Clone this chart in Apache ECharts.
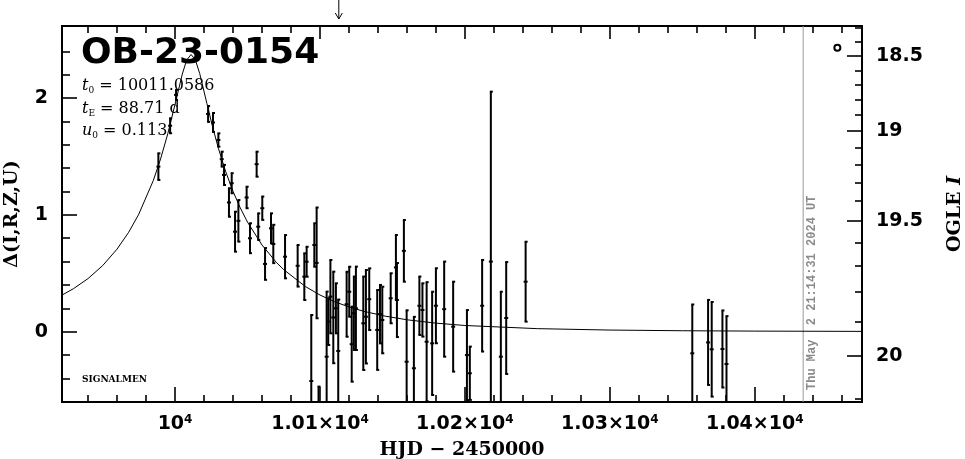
<!DOCTYPE html>
<html><head><meta charset="utf-8">
<script src="https://cdn.jsdelivr.net/npm/echarts@6/dist/echarts.min.js"></script>
<style>html,body{margin:0;padding:0;background:#fff}#c{width:965px;height:459px}</style>
</head><body><div id="c"></div><script>
// ---- data ----
const hjd = [9988.5, 9996.6, 10000.7, 10022.8, 10026.2, 10029.9, 10032.2, 10033.8, 10039.1, 10037.2,
  10041.4, 10043.7, 10049.4, 10051.7, 10056.3, 10057.4, 10060.2, 10062.1, 10066.2, 10067.8,
  10075.9, 10084.6, 10089.2, 10090.8, 10094.0, 10096.1, 10097.7, 10099.0, 10104.6, 10105.7,
  10107.2, 10109.2, 10111.0, 10112.6, 10118.4, 10120.2, 10121.9, 10123.4, 10124.8, 10129.9,
  10131.7, 10134.0, 10139.5, 10141.4, 10143.0, 10148.8, 10152.4, 10153.1, 10157.9, 10159.8,
  10164.8, 10168.6, 10170.7, 10173.6, 10177.4, 10180.0, 10185.7, 10191.9, 10201.4, 10203.4,
  10211.9, 10217.9, 10224.8, 10228.5, 10241.9, 10356.9, 10367.8, 10370.3, 10377.7, 10380.5];
const delta = [1.413, 1.763, 2.027, 1.864, 1.791, 1.641, 1.477, 1.342, 1.271, 1.106,
  0.856, 0.949, 1.149, 0.80, 1.434, 0.899, 1.057, 0.58, 0.885, 0.751,
  0.642, 0.564, 0.471, 0.599, -0.422, 0.742, 0.589, -0.75, -0.214, 0.086,
  0.30, 0.122, 0.20, -0.165, 0.235, 0.342, -0.107, 0.158, 0.20, 0.072,
  0.128, 0.278, 0.015, 0.15, 0.10, 0.286, 0.55, 0.271, 0.692, -0.257,
  -0.313, 0.222, 0.186, -0.086, -0.10, 0.222, 0.193, 0.043, -0.2, -0.356,
  0.222, 0.6, -0.214, 0.117, 0.428, -0.185, -0.092, -0.151, -0.148, -0.277];
const err = [0.114, 0.064, 0.043, 0.068, 0.081, 0.057, 0.064, 0.086, 0.086, 0.122,
  0.171, 0.178, 0.092, 0.128, 0.107, 0.114, 0.10, 0.136, 0.128, 0.164,
  0.185, 0.178, 0.20, 0.128, 0.565, 0.186, 0.474, 0.28, 0.557, 0.20,
  0.314, 0.392, 0.214, 0.44, 0.278, 0.214, 0.321, 0.314, 0.357, 0.40,
  0.40, 0.264, 0.342, 0.25, 0.285, 0.214, 0.278, 0.317, 0.264, 0.44,
  0.44, 0.25, 0.228, 0.51, 0.442, 0.321, 0.407, 0.385, 0.385, 0.228,
  0.392, 1.455, 0.556, 0.479, 0.342, 0.418, 0.364, 0.405, 0.33, 0.41];

// model curve samples
const modelHjd = [9922, 9930, 9940, 9950, 9960, 9968, 9975, 9985, 9990, 9995,
  10000, 10005, 10008, 10011.06, 10014, 10017, 10022, 10026, 10030, 10035,
  10040, 10045, 10050, 10060, 10070, 10075, 10090, 10100, 10110, 10120,
  10130, 10145, 10160, 10180, 10200, 10250, 10300, 10350, 10400, 10474];
const modelDelta = [0.313, 0.369, 0.455, 0.565, 0.707, 0.851, 1.006, 1.294, 1.478, 1.695,
  1.946, 2.205, 2.325, 2.373, 2.328, 2.211, 1.953, 1.749, 1.566, 1.368,
  1.202, 1.060, 0.938, 0.742, 0.592, 0.531, 0.386, 0.314, 0.257, 0.212,
  0.175, 0.133, 0.102, 0.073, 0.053, 0.026, 0.014, 0.008, 0.005, 0.0025];

const extraMarker = [[10457, 2.43]];

// ticks & labels
const xMajorTicks = [10000, 10100, 10200, 10300, 10400];
const xTickLabels = ['10^4', '1.01×10^4', '1.02×10^4', '1.03×10^4', '1.04×10^4'];
const xMinorTicks = [9940, 9960, 9980, 10020, 10040, 10060, 10080, 10120, 10140, 10160, 10180,
  10220, 10240, 10260, 10280, 10320, 10340, 10360, 10380, 10420, 10440, 10460];
const yMajorTicks = [0, 1, 2];
const yMinorTicks = [-0.4, -0.2, 0.2, 0.4, 0.6, 0.8, 1.2, 1.4, 1.6, 1.8, 2.2, 2.4];
const magMajor = [18.5, 19, 19.5, 20];
const magLabels = ['18.5', '19', '19.5', '20'];
const magMinor = [18.3, 18.4, 18.6, 18.7, 18.8, 18.9, 19.1, 19.2, 19.3, 19.4, 19.6, 19.7, 19.8, 19.9, 20.1];

const eventName = 'OB-23-0154';
const t0Text = '10011.0586', tEText = '88.71 d', u0Text = '0.113';
const nowHjd = 10433.4;
const nowLabel = 'Thu May  2 21:14:31 2024 UT';
const arrowHjd = 10113;

const X_MIN = 9922, X_MAX = 10474, Y_MIN = -0.602, Y_MAX = 2.617;
const SRC = 2.672, BLEND = -1.846;
function magToDelta(m) { return 2.5 * Math.log10(SRC * Math.pow(10, -0.4 * (m - 20)) + BLEND); }
const magMajorD = magMajor.map(magToDelta);
const magMinorD = magMinor.map(magToDelta);

const chart = echarts.init(document.getElementById('c'), null, { renderer: 'canvas' });
const tickFont = { fontFamily: 'DejaVu Sans', fontWeight: 'bold', fontSize: 19, color: '#000' };
const nameFont = { fontFamily: 'DejaVu Serif', fontWeight: 'bold', fontSize: 19, color: '#000' };

function xAxisDef(pos, ticks, len, labels) {
  return {
    type: 'value', min: X_MIN, max: X_MAX, position: pos,
    axisLine: { show: false, onZero: false }, splitLine: { show: false },
    axisTick: { show: true, inside: true, length: len, customValues: ticks, lineStyle: { color: '#000', width: 1.6 } },
    axisLabel: labels ? {
      show: true, customValues: xMajorTicks, margin: 12,
      formatter: v => { const i = xMajorTicks.indexOf(v); const s = i >= 0 ? xTickLabels[i] : ''; return '{m|' + s.replace(/\^(\d+)/, '}{s|$1}'); },
      rich: { m: Object.assign({}, tickFont), s: Object.assign({}, tickFont, { fontSize: 12, padding: [0, 0, 9, 0] }) }
    } : { show: false }
  };
}
function yAxisDef(pos, ticks, len, labelVals, fmt) {
  return {
    type: 'value', min: Y_MIN, max: Y_MAX, position: pos,
    axisLine: { show: false, onZero: false }, splitLine: { show: false },
    axisTick: { show: true, inside: true, length: len, customValues: ticks, lineStyle: { color: '#000', width: 1.6 } },
    axisLabel: labelVals ? Object.assign({ show: true, customValues: labelVals, margin: 14, formatter: fmt }, tickFont) : { show: false }
  };
}

const xAxes = [xAxisDef('bottom', xMajorTicks, 15, true), xAxisDef('bottom', xMinorTicks, 7, false),
  xAxisDef('top', xMajorTicks, 13, false), xAxisDef('top', xMinorTicks, 7, false)];
xAxes[0].name = 'HJD − 2450000'; xAxes[0].nameLocation = 'middle'; xAxes[0].nameGap = 39; xAxes[0].nameTextStyle = nameFont;

const yAxes = [
  yAxisDef('left', yMajorTicks, 15, yMajorTicks, v => String(Math.round(v))),
  yAxisDef('left', yMinorTicks, 8, null),
  yAxisDef('right', magMajorD, 15, magMajorD, v => { let b = 0, bd = 1e9; magMajorD.forEach((d, i) => { if (Math.abs(d - v) < bd) { bd = Math.abs(d - v); b = i; } }); return magLabels[b]; }),
  yAxisDef('right', magMinorD, 7, null)
];
yAxes[0].name = 'Δ(I,R,Z,U)'; yAxes[0].nameLocation = 'middle'; yAxes[0].nameGap = 40; yAxes[0].nameTextStyle = nameFont;
yAxes[2].name = '{n|OGLE }{i|I}'; yAxes[2].nameLocation = 'middle'; yAxes[2].nameGap = 84;
yAxes[2].nameRotate = 90;
yAxes[2].nameTextStyle = { rich: { n: nameFont, i: Object.assign({}, nameFont, { fontStyle: 'italic' }) } };

const barData = hjd.map((x, i) => [x, delta[i], err[i]]);
const modelData = modelHjd.map((x, i) => [x, modelDelta[i]]);

const paramRich = {
  i: { fontFamily: 'DejaVu Serif', fontStyle: 'italic', fontSize: 16, color: '#000' },
  s: { fontFamily: 'DejaVu Serif', fontSize: 9, padding: [10, 0, 0, 0], color: '#000' },
  n: { fontFamily: 'DejaVu Serif', fontSize: 16, color: '#000' }
};

const option = {
  animation: false,
  backgroundColor: '#fff',
  grid: { left: 62, right: 103, top: 26, bottom: 57, outerBoundsMode: 'none', containLabel: false,
    show: true, borderColor: '#000', borderWidth: 2, backgroundColor: 'transparent' },
  xAxis: xAxes,
  yAxis: yAxes,
  graphic: [
    { type: 'text', left: 81, top: 36, style: { text: eventName, font: 'bold 36px "DejaVu Sans"', fill: '#000' } },
    { type: 'text', left: 82, top: 78, style: { text: '{i|t}{s|0}{n| = ' + t0Text + '}', rich: paramRich } },
    { type: 'text', left: 82, top: 101, style: { text: '{i|t}{s|E}{n| = ' + tEText + '}', rich: paramRich } },
    { type: 'text', left: 82, top: 123, style: { text: '{i|u}{s|0}{n| = ' + u0Text + '}', rich: paramRich } },
    { type: 'text', left: 82, top: 375, style: { text: 'SIGNALMEN', font: 'bold 9px "DejaVu Serif"', fill: '#000' } }
  ],
  series: [
    {
      type: 'custom', name: 'now', data: [[nowHjd]], clip: true, z: 1, silent: true,
      renderItem: (params, api) => {
        const px = api.coord([api.value(0), 0])[0]; const cs = params.coordSys;
        return { type: 'group', children: [
          { type: 'line', shape: { x1: px, y1: cs.y, x2: px, y2: cs.y + cs.height }, style: { stroke: '#999', lineWidth: 1 } },
          { type: 'text', x: px + 9, y: cs.y + cs.height - 12, rotation: Math.PI / 2,
            style: { text: nowLabel, font: 'bold 12px "Liberation Mono"', fill: '#8a8a8a', align: 'left', verticalAlign: 'middle' } }
        ] };
      }
    },
    {
      type: 'custom', name: 'arrow', data: [[arrowHjd]], clip: false, silent: true,
      renderItem: (params, api) => {
        const px = api.coord([api.value(0), 0])[0]; const top = params.coordSys.y;
        return { type: 'group', children: [
          { type: 'line', shape: { x1: px, y1: top - 26, x2: px, y2: top - 7 }, style: { stroke: '#000', lineWidth: 1 } },
          { type: 'polyline', shape: { points: [[px - 3.5, top - 13], [px, top - 7], [px + 3.5, top - 13]] }, style: { stroke: '#000', lineWidth: 1, fill: null } }
        ] };
      }
    },
    {
      type: 'line', name: 'model', data: modelData, showSymbol: false, symbol: 'none', clip: true,
      lineStyle: { color: '#000', width: 1 }, z: 2
    },
    {
      type: 'custom', name: 'OGLE', data: barData, clip: true, z: 3,
      renderItem: (params, api) => {
        const x = api.value(0), y = api.value(1), e = api.value(2);
        const hi = api.coord([x, y + e]), lo = api.coord([x, y - e]), c = api.coord([x, y]);
        const s = { stroke: '#000', lineWidth: 2 };
        return { type: 'group', children: [
          { type: 'line', shape: { x1: hi[0], y1: hi[1], x2: lo[0], y2: lo[1] }, style: s },
          { type: 'line', shape: { x1: hi[0] - 1, y1: hi[1], x2: hi[0] + 2, y2: hi[1] }, style: s },
          { type: 'line', shape: { x1: lo[0] - 1, y1: lo[1], x2: lo[0] + 2, y2: lo[1] }, style: s },
          { type: 'line', shape: { x1: c[0] - 2, y1: c[1], x2: c[0] + 2, y2: c[1] }, style: s }
        ] };
      }
    },
    {
      type: 'scatter', name: 'marker', data: extraMarker, symbol: 'circle', symbolSize: 6,
      itemStyle: { color: '#fff', borderColor: '#000', borderWidth: 2, opacity: 1 }, z: 5
    }
  ]
};
chart.setOption(option);
</script></body></html>
